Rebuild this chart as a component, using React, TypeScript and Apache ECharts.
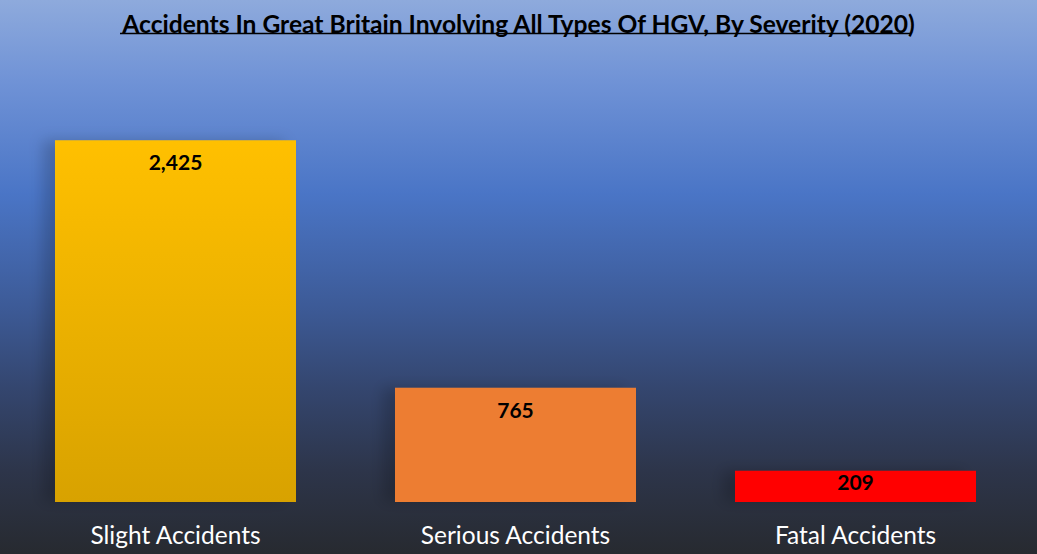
import React, { useEffect, useRef } from "react";
import * as echarts from "echarts";

const titleText = "Accidents In Great Britain Involving All Types Of HGV, By Severity (2020)";
const categories = ["Slight Accidents", "Serious Accidents", "Fatal Accidents"];
const values = [2425, 765, 209];
const barColors: any[] = [
  { type: "linear", x: 0, y: 0, x2: 0, y2: 1, colorStops: [{ offset: 0, color: "#ffc000" }, { offset: 1, color: "#d8a200" }] },
  "#ed7d31",
  "#ff0000",
];
const labelDistances = [11, 11, 0];

export default function App() {
  const ref = useRef<HTMLDivElement>(null);
  useEffect(() => {
    if (!ref.current) return;
    const chart = echarts.init(ref.current, null, { renderer: "svg" });
    chart.setOption({
      animation: false,
      title: {
        text: titleText,
        left: "center",
        top: 6,
        textStyle: { fontFamily: "Lato", fontWeight: "bold", fontSize: 24.6, color: "#000" },
      },
      graphic: [
        {
          type: "line",
          shape: { x1: 120, y1: 33.5, x2: 911, y2: 33.5 },
          style: { stroke: "#000", lineWidth: 1.5 },
        },
      ],
      grid: { left: 5.5, right: 11.5, top: 54.4, bottom: 52, containLabel: false },
      xAxis: {
        type: "category",
        data: categories,
        axisLine: { show: false },
        axisTick: { show: false },
        axisLabel: { color: "#ffffff", fontFamily: "Lato", fontSize: 24.5, margin: 20 },
      },
      yAxis: {
        type: "value",
        min: 0,
        max: 3000,
        interval: 500,
        show: false,
        splitLine: { show: false },
      },
      series: [
        {
          type: "bar",
          barWidth: 241,
          data: values.map((v, i) => ({
            value: v,
            itemStyle: { color: barColors[i] },
            label: { distance: labelDistances[i] },
          })),
          itemStyle: {
            shadowColor: "rgba(0,0,0,0.18)",
            shadowBlur: 14,
            shadowOffsetX: -12,
            shadowOffsetY: 0,
          },
          label: {
            show: true,
            position: "insideTop",
            color: "#000",
            fontFamily: "Lato",
            fontWeight: "bold",
            fontSize: 21,
            formatter: (p: any) => Number(p.value).toLocaleString("en-US"),
          },
        },
      ],
    });
    return () => chart.dispose();
  }, []);
  return (
    <div
      ref={ref}
      style={{
        position: "fixed",
        left: 0,
        top: 0,
        width: 1037,
        height: 554,
        background:
          "linear-gradient(to bottom, #8eaadc 0%, #6f92d6 15%, #4a75c6 35%, #3d5b98 55%, #34466f 70%, #2d354a 85%, #272a30 100%)",
      }}
    />
  );
}
